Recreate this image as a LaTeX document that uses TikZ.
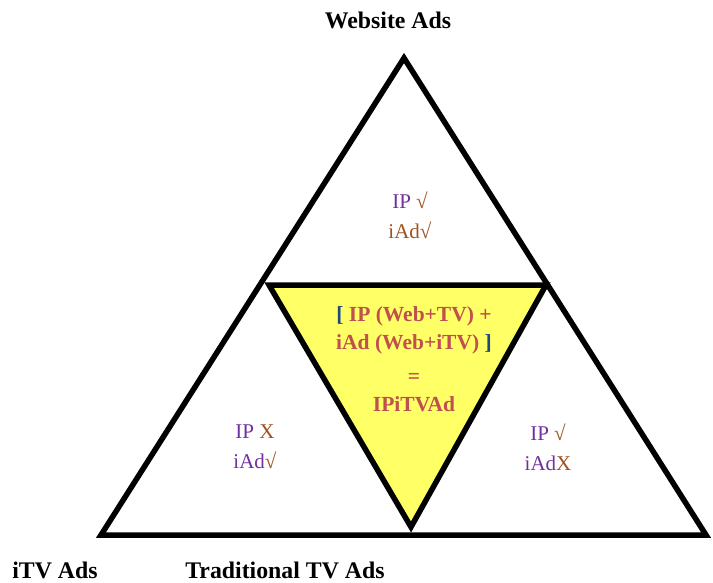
\documentclass[tikz,border=0pt]{standalone}
\usepackage{fontspec}
\setmainfont{Liberation Serif}
\definecolor{ippurple}{HTML}{7030A0}
\definecolor{adbrown}{HTML}{A0521E}
\definecolor{midred}{HTML}{C0504D}
\definecolor{brblue}{HTML}{1F497D}
\definecolor{centrefill}{HTML}{FFFF66}
\tikzset{
  edge/.style={line width=5.5pt, line join=miter, miter limit=20},
  title/.style={font=\fontsize{23.8}{27}\selectfont\bfseries, inner sep=0pt},
  cell/.style={font=\fontsize{21}{30}\selectfont, align=center, inner sep=0pt},
  centre/.style={font=\fontsize{21.5}{28.5}\selectfont\bfseries, align=center, inner sep=0pt, text=midred},
}
\begin{document}
\begin{tikzpicture}[x=1pt,y=-1pt]
  \useasboundingbox (0,0) rectangle (713,583);
  % outer triangle corners
  \coordinate (apex) at (404,58);
  \coordinate (bl) at (101,535);
  \coordinate (br) at (706,535);
  % inner inverted triangle corners
  \coordinate (il) at (269,285);
  \coordinate (ir) at (546,285);
  \coordinate (ib) at (411,527);
  \draw[edge] (apex) -- (bl) -- (br) -- cycle;
  \draw[edge, fill=centrefill] (il) -- (ir) -- (ib) -- cycle;

  \node[title] (web) at (388,20) {Website Ads};
  \node[title] (itv) at (55,570) {iTV Ads};
  \node[title] (tv) at (285,570) {Traditional TV Ads};

  \node[cell] (top) at (410,215) {\textcolor{ippurple}{IP} \textcolor{adbrown}{√}\\ \textcolor{adbrown}{iAd√}};
  \node[cell] (left) at (255,447) {\textcolor{ippurple}{IP} \textcolor{adbrown}{X}\\ \textcolor{ippurple}{iAd}\textcolor{adbrown}{√}};
  \node[cell] (right) at (548,447) {\textcolor{ippurple}{IP} \textcolor{adbrown}{√}\\ \textcolor{ippurple}{iAd}\textcolor{adbrown}{X}};
  \node[centre] (mid) at (414,359) {\textcolor{brblue}{[} IP (Web+TV) +\\ iAd (Web+iTV) \textcolor{brblue}{]}\\[5pt] =\\ IPiTVAd};
\end{tikzpicture}
\end{document}
